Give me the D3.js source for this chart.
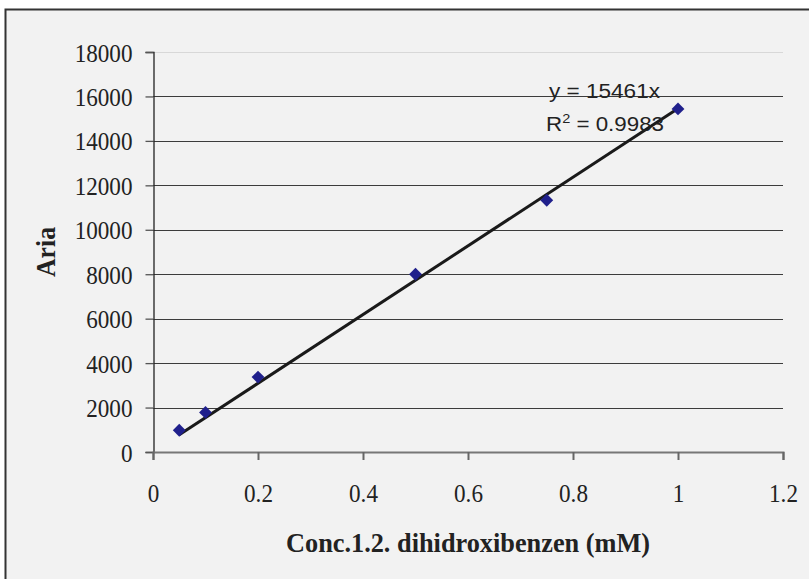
<!DOCTYPE html>
<html>
<head>
<meta charset="utf-8">
<script src="https://cdn.jsdelivr.net/npm/d3@7"></script>
<style>
  html, body { margin: 0; padding: 0; background: #ffffff; }
  svg { display: block; }
</style>
</head>
<body>
<svg id="chart" width="809" height="579"></svg>
<script>
// Calibration data: area vs. 1,2-dihydroxybenzene concentration
const concentrations = [0.05, 0.1, 0.2, 0.5, 0.75, 1.0];
const areas = [980, 1780, 3370, 8000, 11330, 15440];

// Linear fit through the origin and its R² (as reported on the chart)
const slope = 15461;
const rSquared = 0.9983;

const xTicks = [0, 0.2, 0.4, 0.6, 0.8, 1, 1.2];
const yTicks = [0, 2000, 4000, 6000, 8000, 10000, 12000, 14000, 16000, 18000];

const xTitle = "Conc.1.2. dihidroxibenzen (mM)";
const yTitle = "Aria";

const svg = d3.select("#chart");

const plot = { left: 153, right: 783, top: 52, bottom: 452 };

const x = d3.scaleLinear().domain([0, 1.2]).range([plot.left, plot.right]);
const y = d3.scaleLinear().domain([0, 18000]).range([plot.bottom, plot.top]);

// Chart frame
svg.append("rect")
  .attr("x", 5.5).attr("y", 9.5)
  .attr("width", 840).attr("height", 620)
  .attr("fill", "#f2f2f2")
  .attr("stroke", "#333333")
  .attr("stroke-width", 2);

// Horizontal gridlines
svg.append("g")
  .selectAll("line")
  .data(yTicks.filter(d => d > 0))
  .join("line")
  .attr("x1", plot.left).attr("x2", plot.right)
  .attr("y1", d => Math.round(y(d)) + 0.5)
  .attr("y2", d => Math.round(y(d)) + 0.5)
  .attr("stroke", d => d === 18000 ? "#d8d8d8" : "#3c3c3c")
  .attr("stroke-width", 1.2);

const serif = "'Liberation Serif', 'Times New Roman', serif";
const sans = "'Liberation Sans', Arial, sans-serif";

// Squeeze tick labels horizontally like the condensed serif of the original
function condense(sel, factor) {
  sel.each(function () {
    const w = this.getComputedTextLength();
    d3.select(this).attr("textLength", w * factor).attr("lengthAdjust", "spacingAndGlyphs");
  });
}

// Y axis
const yAxis = svg.append("g")
  .attr("transform", `translate(${plot.left + 0.5},0)`)
  .call(d3.axisLeft(y).tickValues(yTicks).tickSize(8).tickPadding(13).tickFormat(d3.format("d")));
yAxis.select(".domain").attr("stroke", "#222").attr("stroke-width", 1.3);
yAxis.selectAll(".tick line").attr("stroke", "#555").attr("stroke-width", 1.3);
yAxis.selectAll(".tick text")
  .attr("font-family", serif).attr("font-size", 26).attr("fill", "#222")
  .attr("dy", "0.35em")
  .call(condense, 0.89);

// X axis
const xAxis = svg.append("g")
  .attr("transform", `translate(0,${plot.bottom})`)
  .call(d3.axisBottom(x).tickValues(xTicks).tickSize(8).tickPadding(24).tickFormat(d => d3.format("")(+d.toFixed(1))));
xAxis.select(".domain").attr("stroke", "#777").attr("stroke-width", 2);
xAxis.selectAll(".tick line").attr("stroke", "#666").attr("stroke-width", 2);
xAxis.selectAll(".tick text")
  .attr("font-family", serif).attr("font-size", 26).attr("fill", "#222")
  .call(condense, 0.89);

// Trend line y = slope * x over the measured range
const xMin = d3.min(concentrations), xMax = d3.max(concentrations);
svg.append("line")
  .attr("x1", x(xMin)).attr("y1", y(slope * xMin))
  .attr("x2", x(xMax)).attr("y2", y(slope * xMax))
  .attr("stroke", "#1a1a1a")
  .attr("stroke-width", 3);

// Data markers (diamonds)
const diamond = d3.symbol().type(d3.symbolDiamond2).size(105);
svg.append("g")
  .selectAll("path")
  .data(concentrations.map((c, i) => [c, areas[i]]))
  .join("path")
  .attr("d", diamond)
  .attr("transform", d => `translate(${x(d[0])},${y(d[1])})`)
  .attr("fill", "#20208c");

// Equation and R² label
const eq = svg.append("text")
  .attr("x", 549).attr("y", 97.5)
  .attr("font-family", sans).attr("font-size", 20).attr("fill", "#222")
  .text(`y = ${slope}x`);
eq.attr("textLength", 111).attr("lengthAdjust", "spacingAndGlyphs");

const r2 = svg.append("text")
  .attr("x", 546).attr("y", 130.5)
  .attr("font-family", sans).attr("font-size", 20).attr("fill", "#222");
r2.append("tspan").text("R");
r2.append("tspan").attr("font-size", 13).attr("dy", -8).text("2");
r2.append("tspan").attr("dy", 8).text(` = ${rSquared}`);
r2.attr("textLength", 118).attr("lengthAdjust", "spacingAndGlyphs");

// Axis titles
svg.append("text")
  .attr("x", (plot.left + plot.right) / 2).attr("y", 551.5)
  .attr("text-anchor", "middle")
  .attr("font-family", serif).attr("font-weight", "bold").attr("font-size", 27).attr("fill", "#222")
  .attr("textLength", 364).attr("lengthAdjust", "spacingAndGlyphs")
  .text(xTitle);

svg.append("text")
  .attr("transform", `translate(55,${(plot.top + plot.bottom) / 2}) rotate(-90)`)
  .attr("text-anchor", "middle")
  .attr("font-family", serif).attr("font-weight", "bold").attr("font-size", 27).attr("fill", "#222")
  .attr("textLength", 50).attr("lengthAdjust", "spacingAndGlyphs")
  .text(yTitle);
</script>
</body>
</html>
